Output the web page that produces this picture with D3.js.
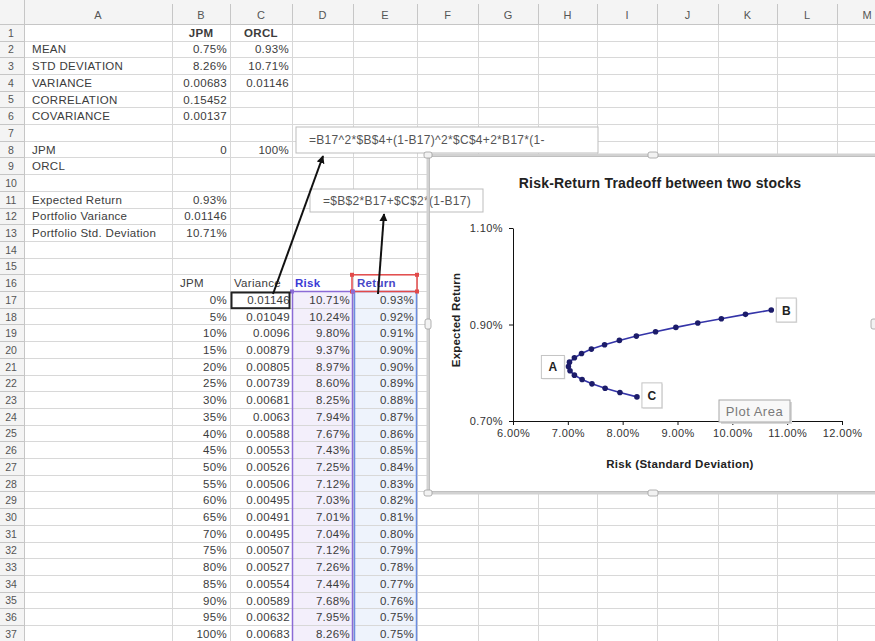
<!DOCTYPE html>
<html><head><meta charset="utf-8">
<script src="https://cdn.jsdelivr.net/npm/d3@7"></script>
<style>
html,body{margin:0;padding:0;background:#fff;overflow:hidden}
svg{display:block;font-family:"Liberation Sans",Arial,sans-serif}
</style></head><body>
<svg id="c" width="875" height="641"></svg>
<script>
// ---------- data ----------
const colLetters = ["A","B","C","D","E","F","G","H","I","J","K","L","M"];
const stockNames = ["JPM","ORCL"];
const summaryLabels = ["MEAN","STD DEVIATION","VARIANCE","CORRELATION","COVARIANCE"];
const summaryJPM = ["0.75%","8.26%","0.00683","0.15452","0.00137"];
const summaryORCL = ["0.93%","10.71%","0.01146","",""];
const weightRowLabels = ["JPM","ORCL"];
const weightRowValues = ["0","100%"];
const portfolioLabels = ["Expected Return","Portfolio Variance","Portfolio Std. Deviation"];
const portfolioValues = ["0.93%","0.01146","10.71%"];
const tableHeaders = ["JPM","Variance","Risk","Return"];
const weightLabels = ["0%","5%","10%","15%","20%","25%","30%","35%","40%","45%","50%","55%","60%","65%","70%","75%","80%","85%","90%","95%","100%"];
const varianceLabels = ["0.01146","0.01049","0.0096","0.00879","0.00805","0.00739","0.00681","0.0063","0.00588","0.00553","0.00526","0.00506","0.00495","0.00491","0.00495","0.00507","0.00527","0.00554","0.00589","0.00632","0.00683"];
const riskLabels = ["10.71%","10.24%","9.80%","9.37%","8.97%","8.60%","8.25%","7.94%","7.67%","7.43%","7.25%","7.12%","7.03%","7.01%","7.04%","7.12%","7.26%","7.44%","7.68%","7.95%","8.26%"];
const returnLabels = ["0.93%","0.92%","0.91%","0.90%","0.90%","0.89%","0.88%","0.87%","0.86%","0.85%","0.84%","0.83%","0.82%","0.81%","0.80%","0.79%","0.78%","0.77%","0.76%","0.75%","0.75%"];
// chart series (risk %, expected return %)
const chartRisk = [10.71,10.24,9.80,9.37,8.97,8.60,8.25,7.94,7.67,7.43,7.25,7.12,7.03,7.01,7.04,7.12,7.26,7.44,7.68,7.95,8.26];
const chartReturn = [0.930,0.921,0.912,0.903,0.894,0.885,0.876,0.867,0.858,0.849,0.840,0.831,0.822,0.813,0.804,0.795,0.786,0.777,0.768,0.759,0.750];
const xTicks = [6,7,8,9,10,11,12];
const yTicks = [0.70,0.90,1.10];
const chartTitle = "Risk-Return Tradeoff between two stocks";
const xTitle = "Risk (Standard Deviation)";
const yTitle = "Expected Return";
const pointTags = ["B","A","C"];
const pointTagIndex = [0,13,20];
const formulaVariance = "=B17^2*$B$4+(1-B17)^2*$C$4+2*B17*(1-";
const formulaReturn = "=$B$2*B17+$C$2*(1-B17)";

// ---------- layout ----------
const svg = d3.select("#c");
const W = 875, H = 641;
const colEdges = [0,24,172,230,292,353,417,478,538,597,657,718,777,837,897];
const headerH = 24.3, rowH = 16.7;
const rowTop = n => headerH + (n-1)*rowH;
const nRows = 38;
const cellFont = 11.5, txt = "#3c3c3c";

svg.append("rect").attr("width",W).attr("height",H).attr("fill","#fff");

// headers background
svg.append("rect").attr("x",0).attr("y",0).attr("width",W).attr("height",headerH).attr("fill","#f4f4f4");
svg.append("rect").attr("x",0).attr("y",0).attr("width",colEdges[1]).attr("height",H).attr("fill","#f4f4f4");

// range fills
svg.append("rect").attr("x",colEdges[4]).attr("y",rowTop(17)).attr("width",colEdges[5]-colEdges[4]).attr("height",H-rowTop(17)).attr("fill","#f3effb");
svg.append("rect").attr("x",colEdges[5]).attr("y",rowTop(17)).attr("width",colEdges[6]-colEdges[5]).attr("height",H-rowTop(17)).attr("fill","#eef3fc");

// gridlines
const grid = svg.append("g").attr("stroke","#d8d8d8").attr("stroke-width",1).attr("shape-rendering","crispEdges");
colEdges.slice(1).forEach(x=>grid.append("line").attr("x1",x).attr("x2",x).attr("y1",headerH).attr("y2",H));
d3.range(1,nRows+1).forEach(n=>grid.append("line").attr("x1",colEdges[1]).attr("x2",W).attr("y1",rowTop(n)).attr("y2",rowTop(n)));
const hgrid = svg.append("g").attr("stroke","#c6c6c6").attr("stroke-width",1).attr("shape-rendering","crispEdges");
colEdges.slice(1).forEach(x=>hgrid.append("line").attr("x1",x).attr("x2",x).attr("y1",4).attr("y2",headerH));
d3.range(1,nRows+1).forEach(n=>hgrid.append("line").attr("x1",0).attr("x2",colEdges[1]).attr("y1",rowTop(n)).attr("y2",rowTop(n)));
hgrid.append("line").attr("x1",0).attr("x2",W).attr("y1",headerH).attr("y2",headerH);
hgrid.append("line").attr("x1",colEdges[1]).attr("x2",colEdges[1]).attr("y1",0).attr("y2",H);

// column letters
svg.append("g").selectAll("text").data(colLetters).join("text")
  .attr("x",(d,i)=>(colEdges[i+1]+colEdges[i+2])/2).attr("y",headerH-5)
  .attr("text-anchor","middle").attr("font-size",11).attr("fill","#555").text(d=>d);
// row numbers
svg.append("g").selectAll("text").data(d3.range(1,nRows)).join("text")
  .attr("x",11).attr("y",n=>rowTop(n)+12.3)
  .attr("text-anchor","middle").attr("font-size",10.5).attr("fill","#555").text(n=>n);

function cell(col,row,text,opt={}){
  const l = colEdges[col+1], r = colEdges[col+2];
  let x, anchor;
  if(opt.align==="right"){x=r-3+(opt.dx||0);anchor="end";}
  else if(opt.align==="center"){x=(l+r)/2;anchor="middle";}
  else {x=l+3+(opt.dx||0);anchor="start";}
  svg.append("text").attr("x",x).attr("y",rowTop(row)+12.4)
    .attr("text-anchor",anchor).attr("font-size",cellFont)
    .attr("letter-spacing",0.3)
    .attr("font-weight",opt.bold?"bold":null)
    .attr("fill",opt.color||txt).text(text);
}
// row 1
cell(1,1,stockNames[0],{align:"center",bold:true});
cell(2,1,stockNames[1],{align:"center",bold:true});
summaryLabels.forEach((t,i)=>{
  cell(0,2+i,t,{dx:5});
  cell(1,2+i,summaryJPM[i],{align:"right"});
  if(summaryORCL[i]) cell(2,2+i,summaryORCL[i],{align:"right"});
});
weightRowLabels.forEach((t,i)=>cell(0,8+i,t,{dx:5}));
cell(1,8,weightRowValues[0],{align:"right"});
cell(2,8,weightRowValues[1],{align:"right"});
portfolioLabels.forEach((t,i)=>{
  cell(0,11+i,t,{dx:5});
  cell(1,11+i,portfolioValues[i],{align:"right"});
});
cell(1,16,tableHeaders[0],{dx:5});
cell(2,16,tableHeaders[1],{dx:1});
cell(3,16,tableHeaders[2],{bold:true,color:"#3b3bd6",dx:0});
cell(4,16,tableHeaders[3],{bold:true,color:"#4848c8",dx:1});
weightLabels.forEach((t,i)=>{
  cell(1,17+i,t,{align:"right"});
  cell(2,17+i,varianceLabels[i],{align:"right",dx:1});
  cell(3,17+i,riskLabels[i],{align:"right"});
  cell(4,17+i,returnLabels[i],{align:"right"});
});

// range borders
svg.append("rect").attr("x",colEdges[4]+0.5).attr("y",rowTop(17)).attr("width",colEdges[5]-colEdges[4]-1).attr("height",H)
  .attr("fill","none").attr("stroke","#8b6bd6").attr("stroke-width",1.5);
svg.append("rect").attr("x",colEdges[5]+1.5).attr("y",rowTop(17)).attr("width",colEdges[6]-colEdges[5]-2).attr("height",H)
  .attr("fill","none").attr("stroke","#6b8de0").attr("stroke-width",1.5);
svg.append("rect").attr("x",colEdges[5]-1).attr("y",rowTop(16)).attr("width",colEdges[6]-colEdges[5]+1).attr("height",rowH)
  .attr("fill","none").attr("stroke","#e24a4a").attr("stroke-width",1.5);
[[colEdges[5]-1,rowTop(16)],[colEdges[6],rowTop(16)],[colEdges[5]-1,rowTop(17)],[colEdges[6],rowTop(17)]].forEach(([x,y])=>
  svg.append("rect").attr("x",x-2).attr("y",y-2).attr("width",4).attr("height",4).attr("fill","#e24a4a"));
[[colEdges[4],rowTop(17)],[colEdges[5],rowTop(17)]].forEach(([x,y])=>
  svg.append("rect").attr("x",x-2).attr("y",y-2).attr("width",4).attr("height",4).attr("fill","#8b6bd6"));
// active cell
svg.append("rect").attr("x",colEdges[3]+1.5).attr("y",rowTop(17)+1).attr("width",colEdges[4]-colEdges[3]-4).attr("height",rowH-1)
  .attr("fill","none").attr("stroke","#222").attr("stroke-width",2);

// ---------- chart ----------
const cx0 = 428, cy0 = 155, cx1 = 878, cy1 = 493;
svg.append("rect").attr("x",cx0).attr("y",cy0).attr("width",cx1-cx0).attr("height",cy1-cy0).attr("fill","#fff");

const x = d3.scaleLinear().domain([6,12]).range([513,842]);
const y = d3.scaleLinear().domain([0.70,1.10]).range([421,228]);
const ch = svg.append("g");

ch.append("text").attr("x",660).attr("y",188).attr("text-anchor","middle")
  .attr("font-size",14).attr("font-weight","bold").attr("letter-spacing",0.2).attr("fill","#222").text(chartTitle);

const xa = ch.append("g").attr("transform",`translate(0,${y(0.70)})`)
  .call(d3.axisBottom(x).tickValues(xTicks).tickFormat(d=>d.toFixed(2)+"%").tickSize(4).tickSizeOuter(0).tickPadding(4));
const ya = ch.append("g").attr("transform",`translate(${x(6)},0)`)
  .call(d3.axisLeft(y).tickValues(yTicks).tickFormat(d=>d.toFixed(2)+"%").tickSize(4).tickSizeOuter(0).tickPadding(6));
[xa,ya].forEach(a=>{
  a.selectAll("text").attr("font-size",11).attr("letter-spacing",0.4).attr("fill","#333").attr("font-family","Liberation Sans, Arial, sans-serif");
  a.selectAll("path,line").attr("stroke","#111");
});

ch.append("text").attr("x",680).attr("y",468).attr("text-anchor","middle")
  .attr("font-size",11.5).attr("font-weight","bold").attr("letter-spacing",0.3).attr("fill","#222").text(xTitle);
ch.append("text").attr("transform","translate(460,320) rotate(-90)").attr("text-anchor","middle")
  .attr("font-size",11.5).attr("font-weight","bold").attr("letter-spacing",0.2).attr("fill","#222").text(yTitle);

const pts = chartRisk.map((r,i)=>[r,chartReturn[i]]);
ch.append("path").datum(pts).attr("fill","none").attr("stroke","#3434a8").attr("stroke-width",1.6)
  .attr("d",d3.line().x(d=>x(d[0])).y(d=>y(d[1])));
ch.append("g").selectAll("circle").data(pts).join("circle")
  .attr("cx",d=>x(d[0])).attr("cy",d=>y(d[1])).attr("r",2.8).attr("fill","#1c1c6a");

// point tags
const tagOffsets = [[5,-12,20,24],[-27,-11,23,23],[5,-14,20,25]];
pointTags.forEach((t,k)=>{
  const p = pts[pointTagIndex[k]], o = tagOffsets[k];
  const bx = x(p[0])+o[0], by = y(p[1])+o[1];
  ch.append("rect").attr("x",bx+1).attr("y",by+1).attr("width",o[2]).attr("height",o[3]).attr("fill","#e6e6e6");
  ch.append("rect").attr("x",bx).attr("y",by).attr("width",o[2]).attr("height",o[3]).attr("fill","#fff").attr("stroke","#c4c4c4");
  ch.append("text").attr("x",bx+o[2]/2).attr("y",by+o[3]/2+4.5).attr("text-anchor","middle")
    .attr("font-size",12).attr("font-weight","bold").attr("fill","#222").text(t);
});

// Plot Area tooltip
ch.append("rect").attr("x",721).attr("y",402).attr("width",71).attr("height",22).attr("fill","#d8d8d8");
ch.append("rect").attr("x",719).attr("y",400).attr("width",71).attr("height",22).attr("fill","#f8f8f8").attr("stroke","#a8a8a8");
ch.append("text").attr("x",754.5).attr("y",415.5).attr("text-anchor","middle").attr("font-size",13).attr("letter-spacing",0.5)
  .attr("fill","#7a7a7a").text("Plot Area");

// formula boxes
function fbox(x0,y0,w,h,t){
  svg.append("rect").attr("x",x0).attr("y",y0).attr("width",w).attr("height",h).attr("fill","#fff").attr("stroke","#bdbdbd");
  svg.append("text").attr("x",x0+13).attr("y",y0+h/2+4).attr("font-size",12).attr("letter-spacing",0.3).attr("fill","#555").text(t);
}
fbox(296,127,302,26,formulaVariance);
fbox(310,189,173,23,formulaReturn);

// chart frame (on top)
svg.append("rect").attr("x",cx0).attr("y",cy0).attr("width",cx1-cx0).attr("height",cy1-cy0)
  .attr("fill","none").attr("stroke","#d2d2d2").attr("stroke-width",3);
svg.append("rect").attr("x",cx0+1.5).attr("y",cy0+1.5).attr("width",cx1-cx0-3).attr("height",cy1-cy0-3)
  .attr("fill","none").attr("stroke","#b5b5b5").attr("stroke-width",0.8);
const handles = [[cx0,cy0,8,6],[(cx0+cx1)/2,cy0,10,6],[cx0,(cy0+cy1)/2,6,10],[cx1-4,(cy0+cy1)/2,6,10],[cx0,cy1,8,6],[(cx0+cx1)/2,cy1,10,6]];
handles.forEach(([hx,hy,hw,hh])=>svg.append("rect").attr("x",hx-hw/2).attr("y",hy-hh/2).attr("width",hw).attr("height",hh)
  .attr("rx",2).attr("fill","#f2f2f2").attr("stroke","#a0a0a0").attr("stroke-width",0.8));

// arrows
const defs = svg.append("defs");
defs.append("marker").attr("id","ah").attr("viewBox","0 0 10 10").attr("refX",9).attr("refY",5)
  .attr("markerWidth",4).attr("markerHeight",4).attr("orient","auto")
  .append("path").attr("d","M0,0 L10,5 L0,10 z").attr("fill","#111");
svg.append("line").attr("x1",273).attr("y1",294).attr("x2",323).attr("y2",156)
  .attr("stroke","#111").attr("stroke-width",2).attr("marker-end","url(#ah)");
svg.append("line").attr("x1",378).attr("y1",294).attr("x2",384).attr("y2",214)
  .attr("stroke","#111").attr("stroke-width",2).attr("marker-end","url(#ah)");
</script>
</body></html>
